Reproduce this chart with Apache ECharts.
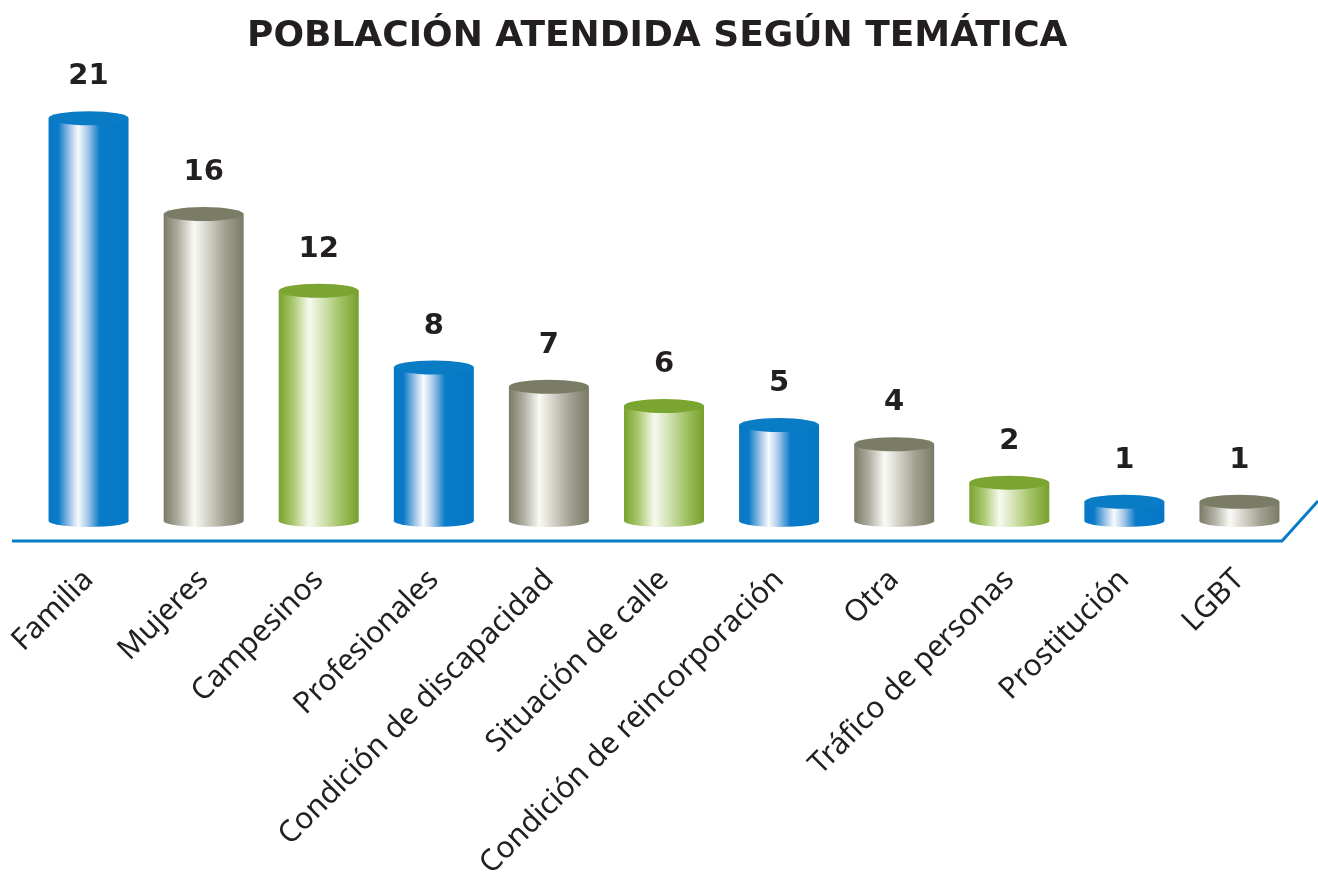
<!DOCTYPE html>
<html>
<head>
<meta charset="utf-8">
<title>Población atendida según temática</title>
<script src="https://cdn.jsdelivr.net/npm/echarts@6/dist/echarts.min.js"></script>
<style>
    html, body { margin: 0; padding: 0; background: #fff; }
    #chart { width: 1318px; height: 876px; }
</style>
</head>
<body>
<div id="chart"></div>
<script>
    var categories = ['Familia', 'Mujeres', 'Campesinos', 'Profesionales', 'Condición de discapacidad',
        'Situación de calle', 'Condición de reincorporación', 'Otra', 'Tráfico de personas', 'Prostitución', 'LGBT'];
    var values = [21, 16, 12, 8, 7, 6, 5, 4, 2, 1, 1];
    // colour family per bar, cycling blue / gray / green
    var tones = ['blue', 'gray', 'green', 'blue', 'gray', 'green', 'blue', 'gray', 'green', 'blue', 'gray'];

    var palette = {
        blue: {
            cap: '#0a7cc6',
            stops: [['#0677c5', 0], ['#0a7bc8', 0.12], ['#9cc1e6', 0.26], ['#f8fbfe', 0.37], ['#a7c8e8', 0.49], ['#0a7bc8', 0.64], ['#0677c5', 1]]
        },
        gray: {
            cap: '#7b7c66',
            stops: [['#7a7a66', 0], ['#aeada0', 0.18], ['#fafaf6', 0.38], ['#d3d1c7', 0.56], ['#a3a292', 0.76], ['#7a7a66', 1]]
        },
        green: {
            cap: '#79a530',
            stops: [['#78a22e', 0], ['#aac870', 0.18], ['#f7faef', 0.38], ['#d2e2b2', 0.56], ['#a0c062', 0.78], ['#76a02c', 1]]
        }
    };

    function grad(tone) {
        return new echarts.graphic.LinearGradient(0, 0, 1, 0, palette[tone].stops.map(function (s) {
            return { offset: s[1], color: s[0] };
        }));
    }

    var chart = echarts.init(document.getElementById('chart'));

    chart.setOption({
        backgroundColor: '#ffffff',
        animation: false,
        title: {
            text: 'POBLACIÓN ATENDIDA SEGÚN TEMÁTICA',
            left: 242,
            top: 14,
            textStyle: {
                fontFamily: 'DejaVu Sans',
                fontWeight: 'bold',
                fontSize: 36,
                color: '#231f20'
            }
        },
        grid: { left: 31, right: 21, top: 99, bottom: 355, containLabel: false, outerBoundsMode: 'none' },
        xAxis: {
            type: 'category',
            data: categories,
            offset: 24,
            axisLine: { show: false },
            axisTick: { show: false },
            axisLabel: {
                rotate: 45,
                interval: 0,
                margin: 30,
                fontFamily: 'Noto Sans',
                fontSize: 30,
                color: '#231f20'
            }
        },
        yAxis: {
            type: 'value',
            min: 0,
            max: 22,
            show: false,
            splitLine: { show: false }
        },
        graphic: [{
            type: 'polyline',
            shape: { points: [[12, 541], [1282, 541], [1318, 501]] },
            style: { stroke: '#0a7cc6', lineWidth: 3, fill: null }
        }],
        series: [
            {
                type: 'bar',
                barWidth: 80,
                data: values.map(function (v, i) {
                    return { value: v, itemStyle: { color: grad(tones[i]) } };
                }),
                z: 2
            },
            {
                // bottom ellipse
                type: 'pictorialBar',
                symbol: 'circle',
                symbolSize: [80, 12],
                symbolOffset: [0, '50%'],
                symbolPosition: 'start',
                barGap: '-100%',
                data: values.map(function (v, i) {
                    return { value: v, itemStyle: { color: grad(tones[i]) } };
                }),
                z: 1
            },
            {
                // top cap with value label
                type: 'pictorialBar',
                symbol: 'circle',
                symbolSize: [80, 14],
                symbolOffset: [0, '-50%'],
                symbolPosition: 'end',
                barGap: '-100%',
                data: values.map(function (v, i) {
                    return { value: v, itemStyle: { color: palette[tones[i]].cap } };
                }),
                label: {
                    show: true,
                    position: 'top',
                    distance: 20,
                    fontFamily: 'DejaVu Sans',
                    fontWeight: 'bold',
                    fontSize: 29,
                    color: '#231f20'
                },
                z: 3
            }
        ]
    });
</script>
</body>
</html>
